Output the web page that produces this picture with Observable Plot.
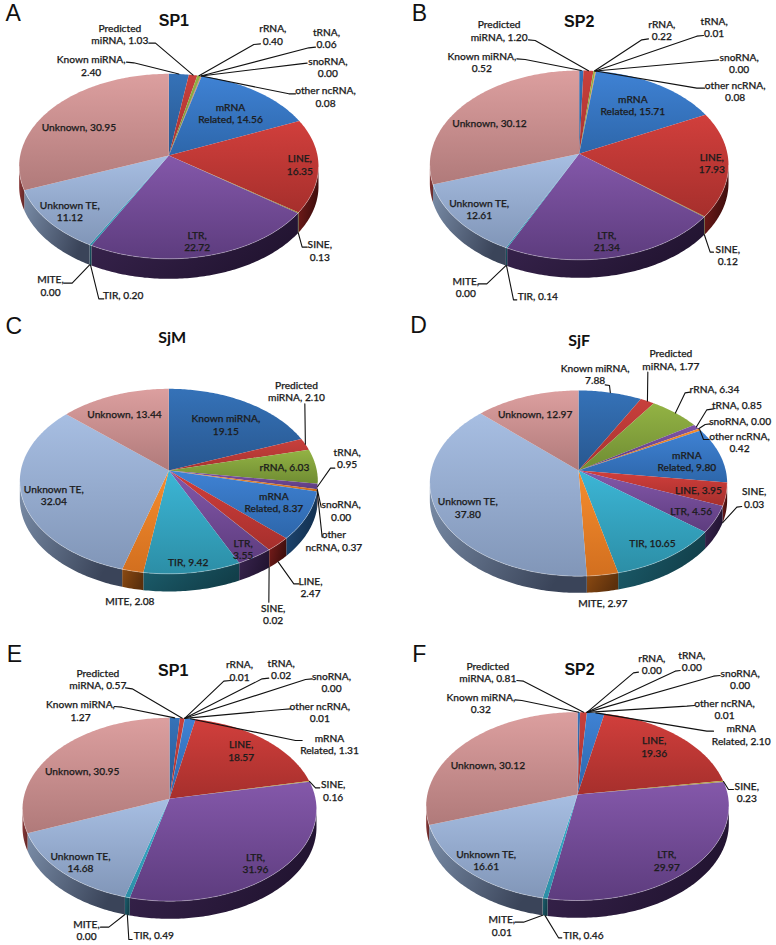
<!DOCTYPE html>
<html>
<head>
<meta charset="utf-8">
<script src="https://cdn.jsdelivr.net/npm/d3@7"></script>
<script src="https://cdn.jsdelivr.net/npm/@observablehq/plot@0.6"></script>
<style>html,body{margin:0;padding:0;background:#fff}svg{display:block}</style>
</head>
<body>
<div id="chart"></div>
<script>
const sliceNames = ["Known miRNA","Predicted miRNA","rRNA","tRNA","snoRNA","other ncRNA","mRNA Related","LINE","SINE","LTR","TIR","MITE","Unknown TE","Unknown"];

const valuesA = [2.40,1.03,0.40,0.06,0.00,0.08,14.56,16.35,0.13,22.72,0.20,0.00,11.12,30.95];
const valuesB = [0.52,1.20,0.22,0.01,0.00,0.08,15.71,17.93,0.12,21.34,0.14,0.00,12.61,30.12];
const valuesC = [19.15,2.10,6.03,0.95,0.00,0.37,8.37,2.47,0.02,3.55,9.42,2.08,32.04,13.44];
const valuesD = [7.88,1.77,6.34,0.85,0.00,0.42,9.80,3.95,0.03,4.56,10.65,2.97,37.80,12.97];
const valuesE = [1.27,0.57,0.01,0.02,0.00,0.01,1.31,18.57,0.16,31.96,0.49,0.00,14.68,30.95];
const valuesF = [0.32,0.81,0.00,0.00,0.00,0.01,2.10,19.36,0.23,29.97,0.46,0.01,16.61,30.12];

const panelLetters = ["A","B","C","D","E","F"];
const panelTitles = ["SP1","SP2","SjM","SjF","SP1","SP2"];

// layout, in units of one third of a pixel inside each panel
const panelOrigins = [[0,0],[388,0],[0,315],[388,315],[0,630],[388,630]];
const letterAt = [[38,38],[93,38],[40,33],[90,31],[42,71],[92,71]];
const titleAt = [[520,62],[572,65],[515,68],[572,75],[518,120],[573,118]];
const pieShape = [ // apex x, apex y, half width, top, bottom, depth
  [505,465,449,220,775,60],[572,460,448,210,778,54],[505,465,447,220,775,53],
  [570,465,446,225,782,50],[507,505,441,262,812,53],[567,492,454,245,810,52]
];
const inlineNames = [
  ["TIR"],["TIR"],
  ["rRNA","TIR","MITE"],
  ["rRNA","tRNA","snoRNA","LINE","LTR","TIR","MITE"],
  ["TIR"],["TIR"]
];
const labelAtA = [[272,195],[358,100],[817,102],[978,112],[982,200],[975,288],[690,338],[898,492],[958,750],[590,722],[368,883],[150,855],[208,632],[235,380]];
const labelAtB = [[280,185],[332,90],[820,88],[977,80],[1052,188],[1040,272],[733,313],[970,487],[1018,763],[655,722],[448,886],[232,860],[272,625],[303,368]];
const labelAtC = [[676,327],[888,227],[852,456],[1040,428],[1022,585],[1000,675],[820,560],[930,815],[818,895],[728,700],[563,740],[388,857],[160,538],[372,295]];
const labelAtD = [[620,176],[847,132],[978,222],[1045,270],[1055,316],[1053,380],[895,437],[930,525],[1097,546],[908,588],[792,683],[643,862],[238,576],[440,296]];
const labelAtE = [[240,240],[292,146],[717,120],[842,115],[993,155],[958,245],[987,340],[722,360],[998,480],[765,698],[460,915],[258,898],[240,695],[245,422]];
const labelAtF = [[277,218],[298,125],[790,100],[910,92],[1055,145],[1008,235],[1058,312],[797,348],[1075,485],[835,690],[585,913],[340,885],[293,688],[298,405]];

const leaderA = [[[378,185],[400,187]],[[445,128],[465,128]],[[780,130],[760,132]],[[945,140],[925,142]],[[920,188],[900,190]],[[885,280],[865,280]],null,null,[[920,740],[905,740]],null,[[310,895],[295,895]],[[190,848],[215,848]],null,null];
const leaderB = [[[385,175],[410,177]],[[420,118],[440,120]],[[780,115],[760,118]],[[945,105],[925,107]],[[990,178],[970,180]],[[948,263],[925,263]],null,null,[[975,755],[965,755]],null,[[385,898],[375,898]],[[270,850],[295,850]],null,null];
const leaderC = [null,[[913,265]],null,[[1003,458],[990,458]],[[962,575]],[[965,665]],null,[[895,805],[880,805]],[[805,860]],null,null,null,null,null];
const leaderD = [[[650,208],[663,210]],[[778,170]],[[905,230],[890,232]],[[975,280],[955,283]],[[965,325],[950,327]],[[962,372],[945,372]],null,null,[[1060,573],[1045,575]],null,null,null,null,null];
const leaderE = [[[342,228],[365,230]],[[375,172],[395,175]],[[690,150],[670,152]],[[805,143],[785,145]],[[935,145],[915,147]],[[870,235],[845,237]],[[905,330],[885,330]],null,[[958,472],[945,472]],null,[[395,927],[385,927]],[[300,890],[325,890]],null,null];
const leaderF = [[[380,208],[400,210]],[[385,150],[405,152]],[[750,125],[735,127]],[[875,120],[860,122]],[[995,135],[975,137]],[[918,225],[895,227]],[[975,302],[955,302]],null,[[1035,477],[1020,477]],null,[[520,922],[510,922]],[[380,875],[405,875]],null,null];

// face light, face dark, wall light, wall dark
const sliceColors = [
  ["#3572b8","#28578f","#1e4370","#16314f"],
  ["#c8403c","#a83230","#7a1e1c","#4f1210"],
  ["#93b344","#6f8c33","#4d6420","#334314"],
  ["#7e55a6","#5c3b80","#3f2858","#2a1a3c"],
  ["#38b0cc","#2a8aa2","#1c5f6e","#123f4a"],
  ["#f58c2e","#cc6e1e","#8a4a10","#5e300a"],
  ["#3f82d4","#2d66aa","#1f4a78","#13304f"],
  ["#d13f3c","#a62f2c","#7a1d1b","#3f0e0d"],
  ["#b5a640","#8f8530","#5e5720","#3f3a14"],
  ["#8458aa","#5d3c7e","#3a2550","#221431"],
  ["#3cb6d6","#2c8ea6","#1c5f6e","#123f4a"],
  ["#f68d2e","#d26f1f","#8c4a12","#5c300c"],
  ["#a7bee2","#8196b8","#7b8ea9","#3a4459"],
  ["#dc9f9f","#b07a7a","#8b3a3a","#6a2a2a"]
];

const allValues = [valuesA,valuesB,valuesC,valuesD,valuesE,valuesF];
const allLabelAt = [labelAtA,labelAtB,labelAtC,labelAtD,labelAtE,labelAtF];
const allLeaders = [leaderA,leaderB,leaderC,leaderD,leaderE,leaderF];

const faces = [], walls = [], rims = [], leaders = [], labels = [], letters = [], titles = [];

allValues.forEach((values, p) => {
  const [ox, oy] = panelOrigins[p];
  const [ax, ay, hw, top, bottom, depth] = pieShape[p];
  const rt = ay - top, rb = bottom - ay;
  const k = -(rb - rt) / (rb + rt);
  const A = rb * (1 + k), B = hw * Math.sqrt(1 - k * k);
  const px = x => ox + x / 3, py = y => oy + y / 3;
  const project = theta => {
    const u = Math.sin(theta), v = -Math.cos(theta), d = 1 + k * v;
    return {x: ax + B * u / d, y: ay + A * v / d, v};
  };
  const total = d3.sum(values);
  let cum = 0;
  values.forEach((value, i) => {
    const a0 = cum / total * 2 * Math.PI;
    cum += value;
    const a1 = cum / total * 2 * Math.PI;
    const id = `${p}-${i}`;
    const n = Math.max(2, Math.ceil((a1 - a0) / 0.015));
    const arc = d3.range(n + 1).map(j => project(a0 + (a1 - a0) * j / n));
    if (value > 0) {
      faces.push({key: id, x: px(ax), y: py(ay), fill: `url(#face-${i})`});
      arc.forEach(q => faces.push({key: id, x: px(q.x), y: py(q.y), fill: `url(#face-${i})`}));
      const front = arc.filter(q => q.v >= -k);
      if (front.length > 1) {
        front.forEach(q => walls.push({key: id, x: px(q.x), y: py(q.y), fill: `url(#wall-${i})`}));
        front.slice().reverse().forEach(q => walls.push({key: id, x: px(q.x), y: py(q.y + depth), fill: `url(#wall-${i})`}));
        front.forEach(q => rims.push({key: id, x: px(q.x), y: py(q.y)}));
      }
    }
    const route = allLeaders[p][i];
    if (route) {
      const m = project((a0 + a1) / 2);
      const endY = m.y + (m.v > 0.3 ? depth : 0);
      [...route, [m.x, endY]].forEach(([x, y]) => leaders.push({key: id, x: px(x), y: py(y)}));
    }
    let name = sliceNames[i].replace("Predicted ", "Predicted\n").replace("mRNA ", "mRNA\n");
    if (p === 2 && i === 5) name = "other\nncRNA";
    const oneLine = inlineNames[p].includes(sliceNames[i]) || i === 1 || i === 6 || i === 13 || (p === 2 && i === 5);
    const [lx, ly] = allLabelAt[p][i];
    labels.push({x: px(lx), y: py(ly), text: `${name},${oneLine ? " " : "\n"}${value.toFixed(2)}`});
  });
  letters.push({x: px(letterAt[p][0]), y: py(letterAt[p][1]), text: panelLetters[p]});
  titles.push({x: px(titleAt[p][0]), y: py(titleAt[p][1]), text: panelTitles[p], sj: panelTitles[p].startsWith("Sj")});
});

const gradients = () => {
  const defs = d3.create("svg:defs");
  sliceColors.forEach((c, i) => {
    const f = defs.append("linearGradient").attr("id", `face-${i}`).attr("x1", 0).attr("y1", 0).attr("x2", 0).attr("y2", 1);
    f.append("stop").attr("offset", "0%").attr("stop-color", c[0]);
    f.append("stop").attr("offset", "100%").attr("stop-color", c[1]);
    const w = defs.append("linearGradient").attr("id", `wall-${i}`).attr("x1", 0).attr("y1", 0).attr("x2", 1).attr("y2", 0.4);
    w.append("stop").attr("offset", "0%").attr("stop-color", c[2]);
    w.append("stop").attr("offset", "100%").attr("stop-color", c[3]);
  });
  return defs.node();
};

const labelFont = "Lato, 'Noto Sans', sans-serif";
const chart = Plot.plot({
  width: 776, height: 945, margin: 0,
  style: {background: "#fff"},
  x: {domain: [0, 776], range: [0, 776], axis: null},
  y: {domain: [0, 945], range: [0, 945], axis: null},
  color: {type: "identity"},
  marks: [
    gradients,
    Plot.line(walls, {x: "x", y: "y", z: "key", fill: "fill", stroke: "none"}),
    Plot.line(faces, {x: "x", y: "y", z: "key", fill: "fill", stroke: "none"}),
    Plot.line(rims, {x: "x", y: "y", z: "key", stroke: "#fff", strokeOpacity: 0.3, strokeWidth: 1}),
    Plot.line(leaders, {x: "x", y: "y", z: "key", stroke: "#111", strokeWidth: 1.1}),
    Plot.text(labels, {x: "x", y: "y", text: "text", fontFamily: labelFont, fontSize: 10.2, fontWeight: 500, fill: "#1c1c1c", stroke: "#1c1c1c", strokeWidth: 0.25, lineHeight: 1.2}),
    Plot.text(letters, {x: "x", y: "y", text: "text", fontFamily: "'Liberation Sans', Arial, sans-serif", fontSize: 23, fill: "#111"}),
    Plot.text(titles.filter(d => !d.sj), {x: "x", y: "y", text: "text", fontFamily: "'Liberation Sans', Arial, sans-serif", fontSize: 16, fontWeight: 700, fill: "#111"}),
    Plot.text(titles.filter(d => d.sj), {x: "x", y: "y", text: "text", fontFamily: labelFont, fontSize: 16, fontWeight: 700, fill: "#111"})
  ]
});
document.getElementById("chart").append(chart);
</script>
</body>
</html>
